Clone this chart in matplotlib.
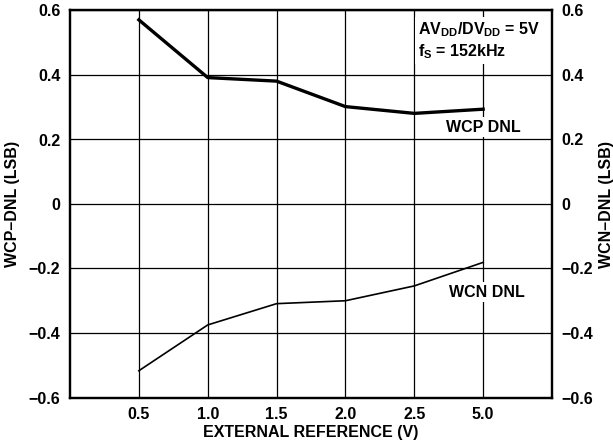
import matplotlib.pyplot as plt
import numpy as np

plt.rcParams['font.family'] = ['Liberation Sans', 'DejaVu Sans']
plt.rcParams['font.weight'] = 'bold'
plt.rcParams['mathtext.fontset'] = 'custom'
plt.rcParams['mathtext.rm'] = 'Liberation Sans:bold'
plt.rcParams['mathtext.bf'] = 'Liberation Sans:bold'

ref_labels = ['0.5', '1.0', '1.5', '2.0', '2.5', '5.0']
wcp_dnl = [0.571, 0.392, 0.381, 0.302, 0.281, 0.294]
wcn_dnl = [-0.517, -0.375, -0.309, -0.300, -0.254, -0.181]
y_ticks = [-0.6, -0.4, -0.2, 0, 0.2, 0.4, 0.6]
y_tick_labels = ['\u22120.6', '\u22120.4', '\u22120.2', '0', '0.2', '0.4', '0.6']

pos = np.arange(1, len(ref_labels) + 1)
fs = 11.5

fig = plt.figure(figsize=(6.13, 4.48), dpi=100)
ax = fig.add_axes([70 / 613, 1 - 397.5 / 448, 482 / 613, 387 / 448])

ax.plot(pos, wcp_dnl, color='black', lw=2.4, zorder=3)
ax.plot(pos, wcn_dnl, color='black', lw=1.2, zorder=3)

ax.set_xlim(0, 7)
ax.set_ylim(-0.6, 0.6)
ax.set_xticks(pos)
ax.set_xticklabels(ref_labels)
ax.set_yticks(y_ticks)
ax.set_yticklabels(y_tick_labels)
ax.tick_params(length=0, labelsize=fs, pad=7)
ax.grid(True, color='black', lw=0.9)
ax.set_axisbelow(True)
for s in ax.spines.values():
    s.set_linewidth(1.6)

ax.set_xlabel('EXTERNAL REFERENCE (V)', fontsize=fs, fontweight='bold', labelpad=2)
ax.set_ylabel('WCP\u2013DNL (LSB)', fontsize=fs, fontweight='bold', labelpad=6)

ax2 = ax.twinx()
ax2.set_ylim(-0.6, 0.6)
ax2.set_yticks(y_ticks)
ax2.set_yticklabels(y_tick_labels)
ax2.tick_params(length=0, labelsize=fs, pad=7)
ax2.set_ylabel('WCN\u2013DNL (LSB)', fontsize=fs, fontweight='bold', rotation=90, labelpad=4)
for s in ax2.spines.values():
    s.set_linewidth(1.6)

# labels sit on white boxes that break the grid lines
box = dict(facecolor='white', edgecolor='none', pad=2)
ax.text(6.0, 0.238, 'WCP DNL', fontsize=fs, fontweight='bold', ha='center', va='center', bbox=box, zorder=4)
ax.text(6.05, -0.273, 'WCN DNL', fontsize=fs, fontweight='bold', ha='center', va='center', bbox=box, zorder=4)
ax.text(5.05, 0.507, r'AV$_{\mathrm{DD}}$/DV$_{\mathrm{DD}}$ = 5V' + '\n' + r'f$_{\mathrm{S}}$ = 152kHz',
        fontsize=fs, fontweight='bold', ha='left', va='center', linespacing=1.25,
        bbox=dict(facecolor='white', edgecolor='none', pad=2), zorder=4)

fig.savefig('out.png', dpi=100)
